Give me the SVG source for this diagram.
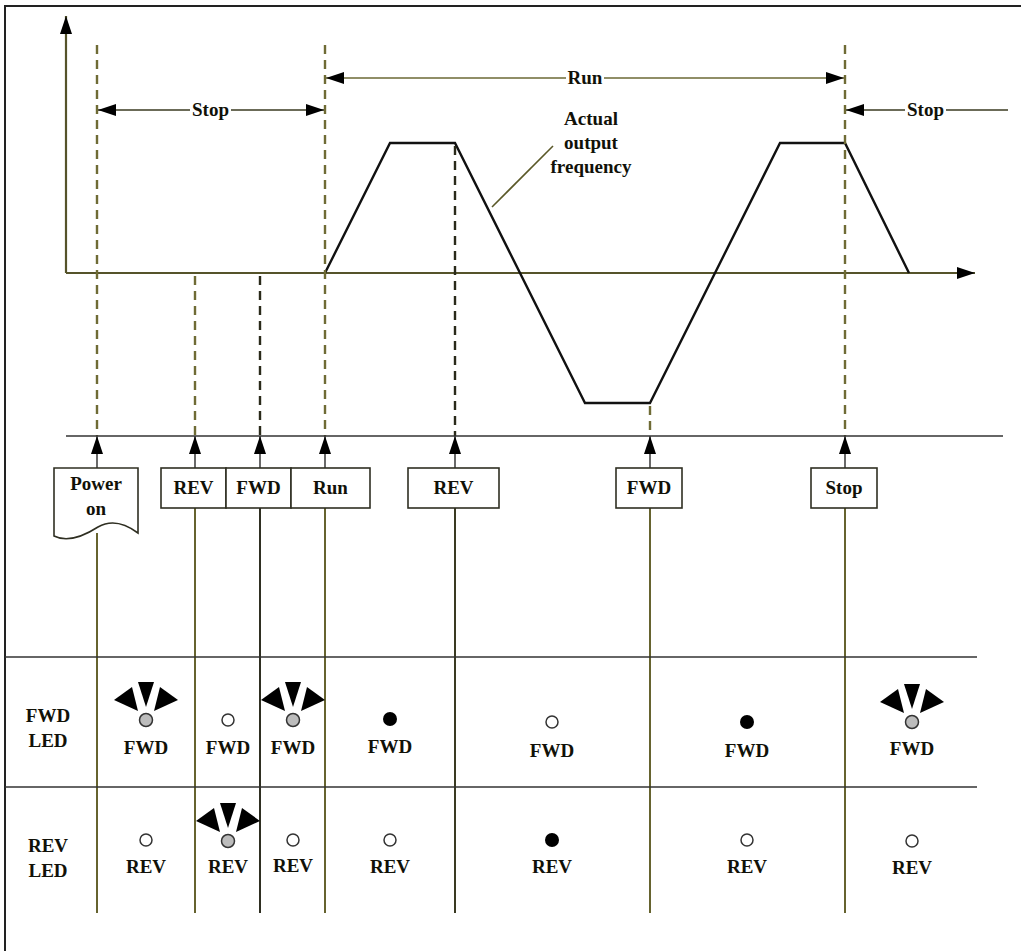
<svg xmlns="http://www.w3.org/2000/svg" width="1021" height="951" viewBox="0 0 1021 951">
<style>
  text { font-family: "Liberation Serif", "Times New Roman", serif; font-weight: bold; font-size: 19px; fill: #111108; text-anchor: middle; }
  .frame { stroke: #222; stroke-width: 2; fill: none; }
  .axis { stroke: #55532a; stroke-width: 2.2; fill: none; }
  .curve { stroke: #111; stroke-width: 2.4; fill: none; stroke-linejoin: miter; }
  .dash { stroke: #6f6b35; stroke-width: 2.4; stroke-dasharray: 9 6; fill: none; }
  .dim { stroke: #3a3a20; stroke-width: 1.6; fill: none; }
  .vline { stroke: #66632f; stroke-width: 2; fill: none; }
  .upline { stroke: #444; stroke-width: 1.6; fill: none; }
  .hline { stroke: #333; stroke-width: 1.6; fill: none; }
  .box { fill: #fff; stroke: #2f2f22; stroke-width: 1.6; }
  .bg { fill: #fff; }
  .ledoff { fill: #fff; stroke: #333; stroke-width: 1.5; }
  .ledon { fill: #000; }
  .ledflash { fill: #bcbcbc; stroke: #333; stroke-width: 1.5; }
  .ray { fill: #000; }
  .leader { stroke: #5a5828; stroke-width: 1.6; fill: none; }
</style>
<defs>
  <marker id="ah" viewBox="0 0 18 12" refX="18" refY="6" markerWidth="18" markerHeight="12" markerUnits="userSpaceOnUse" orient="auto-start-reverse">
    <path d="M0,0 L18,6 L0,12 Z" fill="#000"/>
  </marker>
  <g id="rays">
    <path class="ray" d="M-8,-38 L8,-38 L0,-13 Z"/>
    <path class="ray" d="M-32,-20 L-14,-33 L-8,-9 Z"/>
    <path class="ray" d="M32,-20 L14,-33 L8,-9 Z"/>
  </g>
</defs>

<g id="frame">
  <path class="frame" d="M5,951 V6 H1021"/>
</g>

<g id="axes">
  <line class="axis" x1="66" y1="273" x2="66" y2="16" marker-end="url(#ah)"/>
  <line class="axis" x1="66" y1="273" x2="975" y2="273" marker-end="url(#ah)"/>
</g>

<g id="frequency-curve">
  <polyline class="curve" points="325,273 390,143 455,143 585,403 650,403 780,143 845,143 909,273"/>
  <line class="leader" x1="492" y1="207" x2="553" y2="146"/>
  <text x="591" y="125">Actual</text>
  <text x="591" y="149">output</text>
  <text x="591" y="173">frequency</text>
</g>

<g id="connectors">
  <line class="dash" x1="97" y1="45" x2="97" y2="436"/>
  <line class="dash" x1="195" y1="276" x2="195" y2="436"/>
  <line class="dash" x1="260" y1="276" x2="260" y2="436" style="stroke:#2a2a1a"/>
  <line class="dash" x1="325" y1="45" x2="325" y2="436"/>
  <line class="dash" x1="455" y1="146" x2="455" y2="436" style="stroke:#2a2a1a"/>
  <line class="dash" x1="650" y1="406" x2="650" y2="436"/>
  <line class="dash" x1="845" y1="45" x2="845" y2="436"/>
  <line class="hline" x1="66" y1="436" x2="1003" y2="436"/>
  <line class="upline" x1="97" y1="468" x2="97" y2="436" marker-end="url(#ah)"/>
  <line class="upline" x1="195" y1="468" x2="195" y2="436" marker-end="url(#ah)"/>
  <line class="upline" x1="260" y1="468" x2="260" y2="436" marker-end="url(#ah)"/>
  <line class="upline" x1="325" y1="468" x2="325" y2="436" marker-end="url(#ah)"/>
  <line class="upline" x1="455" y1="468" x2="455" y2="436" marker-end="url(#ah)"/>
  <line class="upline" x1="650" y1="468" x2="650" y2="436" marker-end="url(#ah)"/>
  <line class="upline" x1="845" y1="468" x2="845" y2="436" marker-end="url(#ah)"/>
  <line class="vline" x1="97" y1="533" x2="97" y2="913"/>
  <line class="vline" x1="195" y1="508" x2="195" y2="913"/>
  <line class="vline" x1="260" y1="508" x2="260" y2="913" style="stroke:#2f2f22"/>
  <line class="vline" x1="325" y1="508" x2="325" y2="913"/>
  <line class="vline" x1="455" y1="508" x2="455" y2="913" style="stroke:#3a3a22"/>
  <line class="vline" x1="650" y1="508" x2="650" y2="913"/>
  <line class="vline" x1="845" y1="508" x2="845" y2="913"/>
</g>

<g id="dim-stop-1">
  <line class="dim" x1="98" y1="110" x2="324" y2="110" marker-start="url(#ah)" marker-end="url(#ah)"/>
  <rect class="bg" x="190" y="99" width="41" height="24"/>
  <text x="210.5" y="116">Stop</text>
</g>
<g id="dim-run">
  <line class="dim" x1="326" y1="78" x2="844" y2="78" marker-start="url(#ah)" marker-end="url(#ah)" style="stroke:#6b6834"/>
  <rect class="bg" x="566" y="67" width="38" height="24"/>
  <text x="585" y="84">Run</text>
</g>
<g id="dim-stop-2">
  <line class="dim" x1="1008" y1="110" x2="846" y2="110" marker-end="url(#ah)"/>
  <rect class="bg" x="905" y="99" width="41" height="24"/>
  <text x="925.5" y="116">Stop</text>
</g>

<g id="node-power-on">
  <path class="box" d="M54,468 H138 V533 C126,524 112,519 98,527 C84,536 68,543 54,536 Z"/>
  <text x="96" y="490">Power</text>
  <text x="96" y="515">on</text>
</g>
<g id="node-rev-1">
  <rect class="box" x="161" y="468" width="65" height="40"/>
  <text x="193.5" y="494">REV</text>
</g>
<g id="node-fwd-1">
  <rect class="box" x="226" y="468" width="65" height="40"/>
  <text x="258.5" y="494">FWD</text>
</g>
<g id="node-run">
  <rect class="box" x="291" y="468" width="79" height="40"/>
  <text x="330.5" y="494">Run</text>
</g>
<g id="node-rev-2">
  <rect class="box" x="408" y="468" width="91" height="40"/>
  <text x="453.5" y="494">REV</text>
</g>
<g id="node-fwd-2">
  <rect class="box" x="616" y="468" width="66" height="40"/>
  <text x="649" y="494">FWD</text>
</g>
<g id="node-stop">
  <rect class="box" x="811" y="468" width="66" height="40"/>
  <text x="844" y="494">Stop</text>
</g>

<g id="led-table">
  <line class="hline" x1="5" y1="657" x2="977" y2="657"/>
  <line class="hline" x1="5" y1="787" x2="977" y2="787"/>
  <text x="48" y="722">FWD</text>
  <text x="48" y="747">LED</text>
  <text x="48" y="852">REV</text>
  <text x="48" y="877">LED</text>
</g>

<g id="fwd-led-row">
  <use href="#rays" x="146" y="720"/>
  <circle class="ledflash" cx="146" cy="720" r="6.5"/>
  <text x="146" y="754">FWD</text>
  <circle class="ledoff" cx="228" cy="720" r="6"/>
  <text x="228" y="754">FWD</text>
  <use href="#rays" x="293" y="720"/>
  <circle class="ledflash" cx="293" cy="720" r="6.5"/>
  <text x="293" y="754">FWD</text>
  <circle class="ledon" cx="390" cy="719" r="7"/>
  <text x="390" y="753">FWD</text>
  <circle class="ledoff" cx="552" cy="722" r="6"/>
  <text x="552" y="757">FWD</text>
  <circle class="ledon" cx="747" cy="722" r="7"/>
  <text x="747" y="757">FWD</text>
  <use href="#rays" x="912" y="722"/>
  <circle class="ledflash" cx="912" cy="722" r="6.5"/>
  <text x="912" y="755">FWD</text>
</g>

<g id="rev-led-row">
  <circle class="ledoff" cx="146" cy="840" r="6"/>
  <text x="146" y="873">REV</text>
  <use href="#rays" x="228" y="841"/>
  <circle class="ledflash" cx="228" cy="841" r="6.5"/>
  <text x="228" y="873">REV</text>
  <circle class="ledoff" cx="293" cy="840" r="6"/>
  <text x="293" y="872">REV</text>
  <circle class="ledoff" cx="390" cy="840" r="6"/>
  <text x="390" y="873">REV</text>
  <circle class="ledon" cx="552" cy="840" r="7"/>
  <text x="552" y="873">REV</text>
  <circle class="ledoff" cx="747" cy="840" r="6"/>
  <text x="747" y="873">REV</text>
  <circle class="ledoff" cx="912" cy="841" r="6"/>
  <text x="912" y="874">REV</text>
</g>
</svg>
